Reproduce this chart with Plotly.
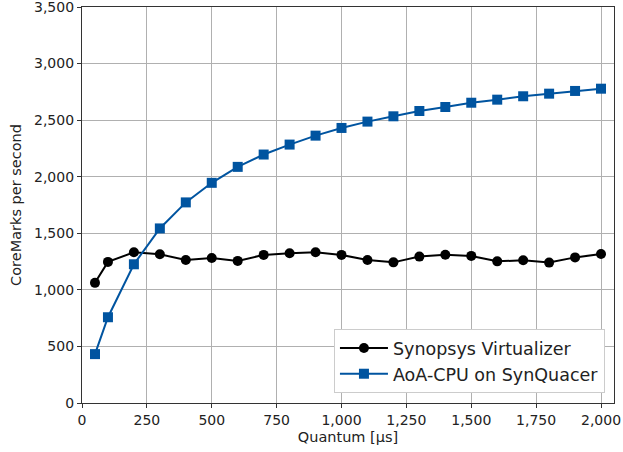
import plotly.graph_objects as go

quantum = [50, 100, 200, 300, 400, 500, 600, 700, 800, 900, 1000,
           1100, 1200, 1300, 1400, 1500, 1600, 1700, 1800, 1900, 2000]
synopsys = [1062, 1247, 1332, 1314, 1264, 1282, 1256, 1309, 1323, 1332, 1309,
            1264, 1243, 1294, 1311, 1300, 1252, 1261, 1241, 1287, 1317]
aoa_cpu = [432, 758, 1226, 1543, 1773, 1946, 2087, 2196, 2284, 2363, 2431,
           2487, 2534, 2581, 2616, 2654, 2681, 2711, 2734, 2758, 2778]
x_ticks = [0, 250, 500, 750, 1000, 1250, 1500, 1750, 2000]
y_ticks = [0, 500, 1000, 1500, 2000, 2500, 3000, 3500]

FONT = "DejaVu Sans, sans-serif"
fig = go.Figure()
fig.add_trace(go.Scatter(x=quantum, y=synopsys, mode="lines+markers",
                         name="Synopsys Virtualizer",
                         line=dict(color="black", width=2),
                         marker=dict(symbol="circle", size=10, color="black")))
fig.add_trace(go.Scatter(x=quantum, y=aoa_cpu, mode="lines+markers",
                         name="AoA-CPU on SynQuacer",
                         line=dict(color="#0054a0", width=2),
                         marker=dict(symbol="square", size=10, color="#0054a0")))

axis_common = dict(showline=True, linecolor="#333333", linewidth=1.2, mirror=True,
                   showgrid=True, gridcolor="#b0b0b0", gridwidth=1,
                   ticks="outside", ticklen=4, tickcolor="#333333",
                   tickfont=dict(family=FONT, size=14, color="#222222"),
                   zeroline=False, tickformat=",d", automargin=False,
                   ticklabeloverflow="allow")

fig.update_layout(
    width=623, height=452,
    margin=dict(l=82, r=9, t=7, b=49),
    plot_bgcolor="white", paper_bgcolor="white",
    font=dict(family=FONT, color="#222222"),
    xaxis=dict(range=[0, 2050], tickvals=x_ticks,
               title=dict(text="Quantum [µs]", font=dict(family=FONT, size=14.5), standoff=4),
               **axis_common),
    yaxis=dict(range=[0, 3500], tickvals=y_ticks,
               title=dict(text="CoreMarks per second", font=dict(family=FONT, size=14.5), standoff=8),
               **axis_common),
    legend=dict(x=0.983, y=0.025, xanchor="right", yanchor="bottom",
                bgcolor="white", bordercolor="#cccccc", borderwidth=1,
                font=dict(family=FONT, size=17.5, color="#222222"),
                tracegroupgap=0, itemwidth=48),
    showlegend=True,
)

fig.write_html("out.html", config={"displayModeBar": False},
               post_script="document.body.style.margin='0';document.body.style.overflow='hidden';")
